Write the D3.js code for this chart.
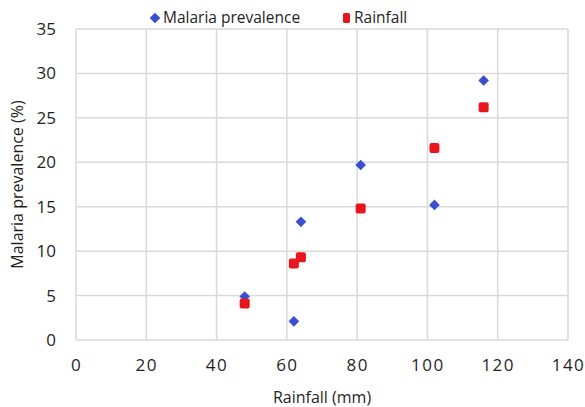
<!DOCTYPE html>
<html>
<head>
<meta charset="utf-8">
<script src="https://cdn.jsdelivr.net/npm/d3@7"></script>
<style>
  body { margin: 0; background: #fff; }
  text { font-family: "Open Sans", "DejaVu Sans", sans-serif; fill: #1f1f1f; }
</style>
</head>
<body>
<svg id="chart" width="585" height="407"></svg>
<script>
// rainfall (mm) per site
let rainfall = [48, 62, 64, 81, 102, 116];
// malaria prevalence (%)
let malaria = [4.9, 2.1, 13.3, 19.7, 15.2, 29.2];
// rainfall series plotted on the same y axis
let rainSeries = [4.1, 8.6, 9.3, 14.8, 21.6, 26.2];

let xTicks = [0, 20, 40, 60, 80, 100, 120, 140];
let yTicks = [0, 5, 10, 15, 20, 25, 30, 35];
let seriesNames = ['Malaria prevalence', 'Rainfall'];

let margin = { left: 76, right: 17, top: 29, bottom: 67 };
let width = 585, height = 407;

let svg = d3.select('#chart');

let xScale = d3.scaleLinear()
	.domain([0, 140])
	.range([margin.left, width - margin.right]);
let yScale = d3.scaleLinear()
	.domain([0, 35])
	.range([height - margin.bottom, margin.top]);

// grid
let grid = svg.append('g');
grid.selectAll('line.v')
	.data(xTicks)
	.enter().append('line')
	.attr('x1', d => xScale(d)).attr('x2', d => xScale(d))
	.attr('y1', yScale(0)).attr('y2', yScale(35))
	.attr('stroke', '#d9d9d9').attr('stroke-width', 1.5);
grid.selectAll('line.h')
	.data(yTicks)
	.enter().append('line')
	.attr('x1', xScale(0)).attr('x2', xScale(140))
	.attr('y1', d => yScale(d)).attr('y2', d => yScale(d))
	.attr('stroke', '#d9d9d9').attr('stroke-width', 1.5);

// axes (labels only)
let xAxis = svg.append('g')
	.attr('transform', `translate(0,${yScale(0)})`)
	.call(d3.axisBottom(xScale).tickValues(xTicks).tickSize(0).tickPadding(19));
let yAxis = svg.append('g')
	.attr('transform', `translate(${xScale(0)},0)`)
	.call(d3.axisLeft(yScale).tickValues(yTicks).tickSize(0).tickPadding(20));
[xAxis, yAxis].forEach(a => {
	a.select('.domain').remove();
	a.selectAll('text')
		.style('font-family', '"Open Sans", "DejaVu Sans", sans-serif')
		.style('font-size', '17px')
		.attr('fill', '#1f1f1f');
});
xAxis.selectAll('text').attr('dy', '0.71em').style('letter-spacing', '1.5px');

// axis titles
svg.append('text')
	.attr('x', (xScale(0) + xScale(140)) / 2)
	.attr('y', 403)
	.attr('text-anchor', 'middle')
	.style('font-size', '16px')
	.text('Rainfall (mm)');
svg.append('text')
	.attr('transform', `translate(23,${(yScale(0) + yScale(35)) / 2}) rotate(-90)`)
	.attr('text-anchor', 'middle')
	.style('font-size', '16px')
	.text('Malaria prevalence (%)');

// points
let diamond = d3.symbol().type(d3.symbolDiamond2).size(72);
svg.append('g').selectAll('path')
	.data(rainfall.map((r, i) => [r, malaria[i]]))
	.enter().append('path')
	.attr('d', diamond)
	.attr('transform', d => `translate(${xScale(d[0])},${yScale(d[1])})`)
	.attr('fill', '#3a4fd0');

svg.append('g').selectAll('rect')
	.data(rainfall.map((r, i) => [r, rainSeries[i]]))
	.enter().append('rect')
	.attr('x', d => xScale(d[0]) - 5)
	.attr('y', d => yScale(d[1]) - 5)
	.attr('width', 10).attr('height', 10)
	.attr('rx', 2)
	.attr('fill', '#e8151c');

// legend
let legend = svg.append('g');
legend.append('path')
	.attr('d', diamond)
	.attr('transform', 'translate(155,18)')
	.attr('fill', '#3a4fd0');
legend.append('text')
	.attr('x', 163).attr('y', 23)
	.style('font-size', '15.5px')
	.text(seriesNames[0]);
legend.append('rect')
	.attr('x', 343).attr('y', 13)
	.attr('width', 7).attr('height', 10).attr('rx', 1.5)
	.attr('fill', '#e8151c');
legend.append('text')
	.attr('x', 354).attr('y', 23)
	.style('font-size', '15.5px')
	.text(seriesNames[1]);
</script>
</body>
</html>
